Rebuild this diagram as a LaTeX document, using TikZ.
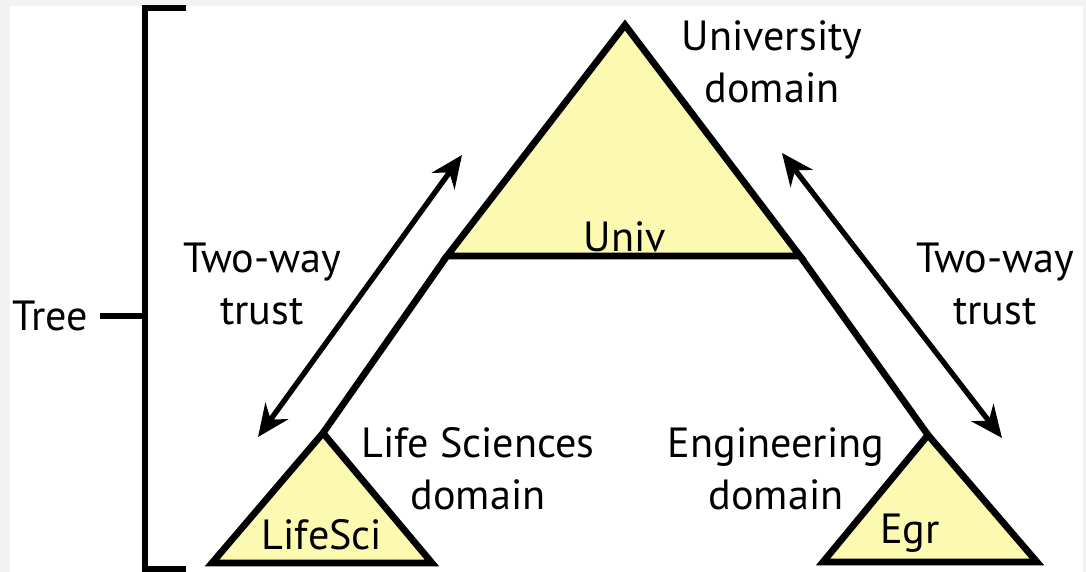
\documentclass[tikz,border=0pt]{standalone}
\usepackage{fontspec}
\setmainfont{PT Sans}
\usetikzlibrary{arrows.meta,positioning}
\definecolor{domfill}{RGB}{252,249,176}
\definecolor{framegray}{RGB}{242,242,242}

\begin{document}
\begin{tikzpicture}[x=0.025cm,y=-0.025cm,
	domtri/.style={fill=domfill,draw=black,line width=4.8pt},
	link/.style={line width=4.8pt},
	trust/.style={{Stealth[length=0.8cm,width=0.7cm]}-{Stealth[length=0.8cm,width=0.7cm]},line width=3.8pt},
	lbl/.style={align=center,font=\fontsize{30}{37}\selectfont,inner sep=0pt},
	bracket/.style={line width=4pt}]

	% frame
	\fill[framegray] (0,0) rectangle (1086,572);
	\fill[white] (10,6) rectangle (1083,572);
	\useasboundingbox (0,0) rectangle (1086,572);

	% university domain
	\coordinate (univTop) at (625,25);
	\coordinate (univL) at (447,256);
	\coordinate (univR) at (800,256);
	\draw[domtri] (univTop) -- (univL) -- (univR) -- cycle;
	\node[lbl] (univ) at (625,237) {Univ};
	\node[lbl] (univDom) at (772,62) {University\\domain};

	% life sciences domain
	\coordinate (lifeTop) at (323,433);
	\coordinate (lifeL) at (212,563);
	\coordinate (lifeR) at (432,563);
	\draw[domtri] (lifeTop) -- (lifeL) -- (lifeR) -- cycle;
	\node[lbl] (life) at (322,535) {LifeSci};
	\node[lbl] (lifeDom) at (478,469) {Life Sciences\\domain};

	% engineering domain
	\coordinate (egrTop) at (928,435);
	\coordinate (egrL) at (823,562);
	\coordinate (egrR) at (1037,562);
	\draw[domtri] (egrTop) -- (egrL) -- (egrR) -- cycle;
	\node[lbl] (egr) at (910,533) {Egr};
	\node[lbl] (egrDom) at (776,469) {Engineering\\domain};

	% tree links
	\draw[link] (univL) -- (lifeTop);
	\draw[link] (univR) -- (egrTop);

	% two-way trusts
	\coordinate (trustLa) at (258,437);
	\coordinate (trustLb) at (462,155);
	\draw[trust] (trustLa) -- (trustLb);
	\node[lbl] (trustL) at (262,284) {Two-way\\trust};

	\coordinate (trustRa) at (782,153);
	\coordinate (trustRb) at (1002,438);
	\draw[trust] (trustRa) -- (trustRb);
	\node[lbl] (trustR) at (995,284) {Two-way\\trust};

	% tree bracket
	\coordinate (brTop) at (186,8);
	\coordinate (brMid) at (145,316);
	\coordinate (brBot) at (186,569);
	\draw[bracket] (brTop) -- (brTop -| brMid) -- (brBot -| brMid) -- (brBot);
	\node[lbl] (tree) at (50,316) {Tree};
	\draw[bracket] ([xshift=0.3cm]tree.east) -- (brMid);

\end{tikzpicture}
\end{document}
